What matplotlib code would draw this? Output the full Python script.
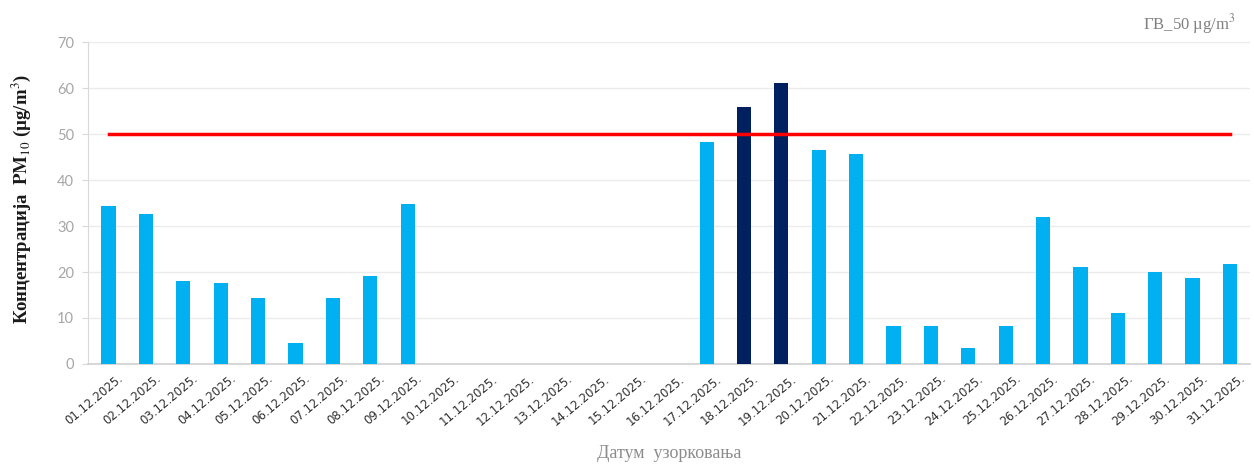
import numpy as np
import matplotlib
matplotlib.use("Agg")
import matplotlib.pyplot as plt
import matplotlib.transforms as mtransforms

# daily PM10 values, December 2025 (nan = no sample)
dates = [f"{d:02d}.12.2025." for d in range(1, 32)]
pm10 = [34.3, 32.7, 18.0, 17.6, 14.3, 4.6, 14.3, 19.2, 34.7,
        np.nan, np.nan, np.nan, np.nan, np.nan, np.nan, np.nan,
        48.2, 55.9, 61.2, 46.5, 45.7, 8.2, 8.2, 3.4, 8.2,
        31.9, 21.2, 11.1, 20.0, 18.8, 21.7]
limit_value = 50

light_blue = '#00B0F0'
navy = '#002060'

plt.rcParams['mathtext.fontset'] = 'stix'

fig = plt.figure(figsize=(12.54, 4.69), dpi=100)
ax = fig.add_axes([0.0702, 0.224, 0.927, 0.686])

x = np.arange(len(dates))
vals = np.array(pm10, dtype=float)
colors = [navy if v > limit_value else light_blue for v in np.nan_to_num(vals)]
ax.bar(x, np.nan_to_num(vals), width=0.38, color=colors, zorder=3)

ax.plot(x, [limit_value] * len(x), color='#FF0000', linewidth=2.5, zorder=4)

ax.set_xlim(-0.55, len(x) - 0.45)
ax.set_ylim(0, 70)
ax.set_yticks(range(0, 71, 10))
ax.yaxis.grid(True, color='#ebebeb', linewidth=1, zorder=0)

for s in ['top', 'right']:
    ax.spines[s].set_visible(False)
ax.spines['left'].set_color('#d9d9d9')
ax.spines['bottom'].set_color('#d0d0d0')
ax.spines['bottom'].set_linewidth(1.2)

ax.tick_params(axis='y', length=4, color='#d9d9d9', labelsize=10.5,
               labelcolor='#a6a6a6', pad=6)
ax.tick_params(axis='x', length=0, labelsize=8.5, labelcolor='#303030', pad=6)
for lbl in ax.get_yticklabels():
    lbl.set_family('Lato')

ax.set_xticks(x)
ax.set_xticklabels(dates, rotation=40, ha='right', va='top',
                   rotation_mode='anchor', family='DejaVu Sans')
shift = mtransforms.ScaledTranslation(9 / 100, 0, fig.dpi_scale_trans)
for lbl in ax.get_xticklabels():
    lbl.set_transform(lbl.get_transform() + shift)

ax.set_xlabel("Датум  узорковања", family='Liberation Serif', fontsize=13,
              color='#8c8c8c', labelpad=12)
fig.text(0.017, 0.575, "Концентрација  $\\mathbf{PM}_{10}$ (µg/m$^3$)",
         rotation=90, ha='center', va='center', family='Liberation Serif',
         fontsize=13.5, fontweight='bold', color='#1a1a1a')
fig.text(0.985, 0.948, "ГВ_50 µg/m$^3$", ha='right', va='center',
         family='Liberation Serif', fontsize=12, color='#808080')

fig.savefig("out.png", dpi=100)
